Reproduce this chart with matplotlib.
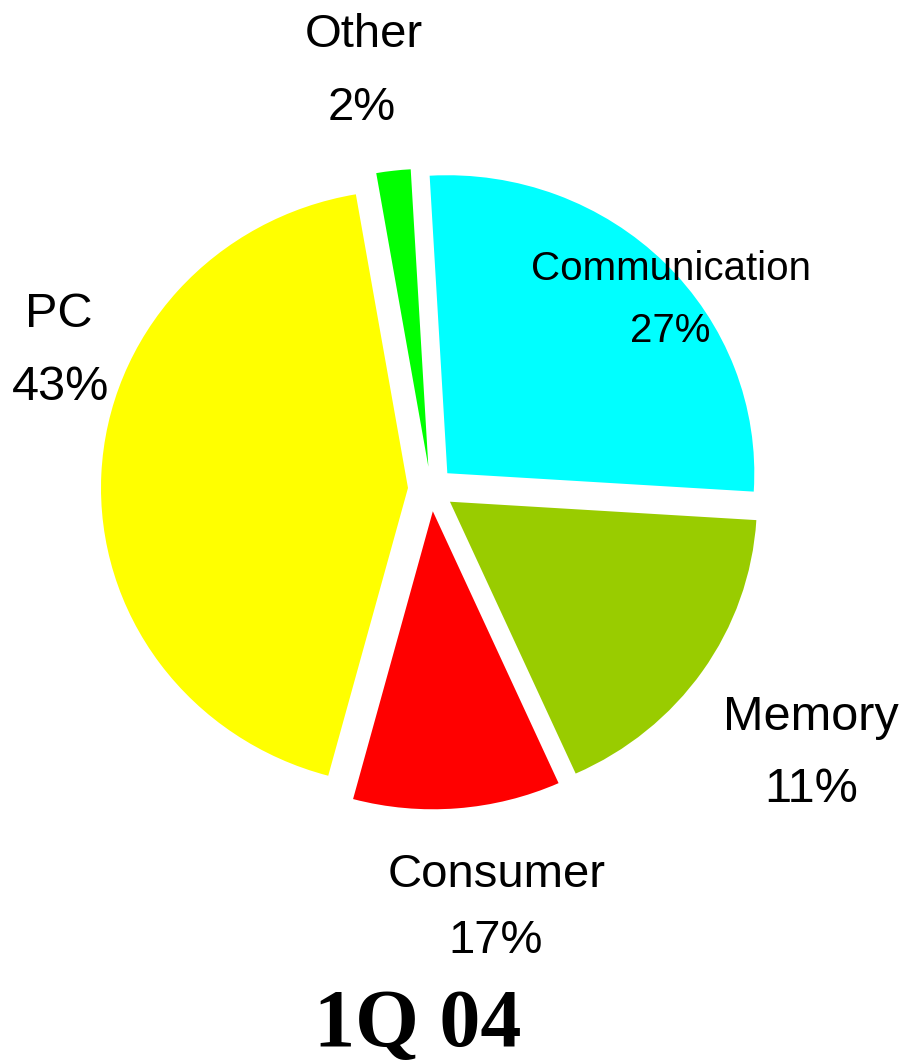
import matplotlib
matplotlib.use("Agg")
import matplotlib.pyplot as plt

# ---- data ----
segments = ["Communication", "Memory", "Consumer", "PC", "Other"]
shares = [26.9, 17.3, 10.9, 43.1, 1.8]          # angular share of each slice
label_pcts = ["27%", "11%", "17%", "43%", "2%"]   # percentages as printed
colors = ["#00FFFF", "#99CC00", "#FF0000", "#FFFF00", "#00FF00"]
title = "1Q 04"

W, H = 910, 1064
fig = plt.figure(figsize=(W / 100, H / 100), dpi=100)
ax = fig.add_axes([0, 0, 1, 1])

cx, cy = 431, 489      # pie centre in pixels (from top-left)
rx, ry = 307, 298      # pixel radius horizontally / vertically

ax.pie(shares, colors=colors, startangle=93.3, counterclock=False,
       explode=[0.075] * len(shares), radius=1, center=(0, 0),
       wedgeprops=dict(linewidth=0))
ax.set_aspect("auto")
ax.set_xlim(-cx / rx, (W - cx) / rx)
ax.set_ylim(-(H - cy) / ry, cy / ry)
ax.axis("off")


def ftext(x, y, s, size, **kw):
    fig.text(x / W, 1 - y / H, s, ha="center", va="baseline",
             fontsize=size, **kw)


sans = dict(family=["Liberation Sans", "DejaVu Sans"], color="black")
# label layout: (name_x, name_baseline, pct_x, pct_baseline, size)
layout = {
    "Communication": (671, 280, 670, 342, 29),
    "Memory": (811, 730, 811, 802, 35),
    "Consumer": (497, 887, 496, 953, 34),
    "PC": (59, 327, 61, 400, 35),
    "Other": (364, 47, 362, 120, 34),
}
for name, pct in zip(segments, label_pcts):
    nx, ny, px, py, sz = layout[name]
    ftext(nx, ny, name, sz, **sans)
    ftext(px, py, pct, sz, **sans)

ftext(418, 1046, title, 59, family=["Liberation Serif", "DejaVu Serif"],
      fontweight="bold", color="black")

fig.savefig("out.png", dpi=100, facecolor="white")
